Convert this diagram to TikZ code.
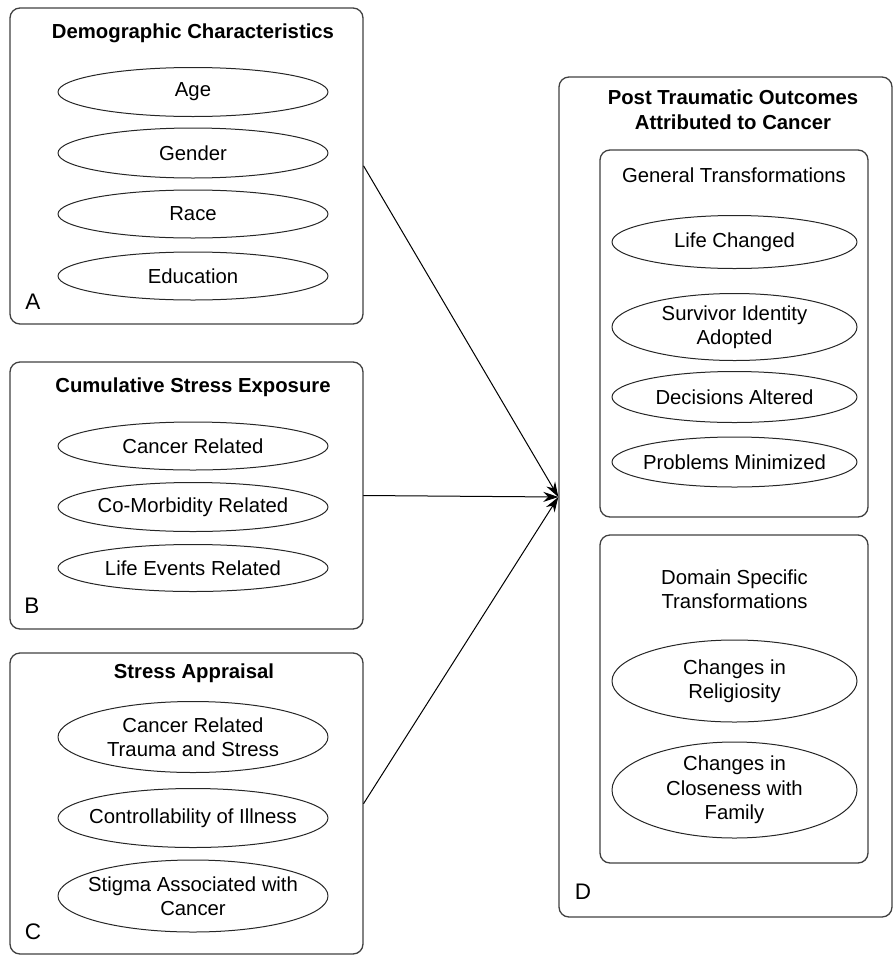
\documentclass[tikz,border=0pt]{standalone}
\usepackage{fontspec}
\setmainfont{Liberation Sans}
\usetikzlibrary{arrows.meta,shapes.geometric}
\tikzset{
  panel/.style={draw=black!75, line width=1.3pt, rounded corners=10pt},
  oval/.style={ellipse, draw=black!85, line width=1pt, minimum width=270pt,
    inner xsep=-16pt, inner ysep=-3pt, align=center},
  title/.style={font=\fontsize{20.3}{25}\selectfont\bfseries, align=center},
  subtitle/.style={align=center},
  letter/.style={font=\fontsize{22.5}{26}\selectfont}
}
\begin{document}
\begin{tikzpicture}[x=1pt, y=-1pt, >={Stealth[length=15pt,width=10pt]}, line join=round, line cap=round,
    font=\fontsize{20.3}{24.5}\selectfont]
	\useasboundingbox (0,0) rectangle (895,956);
	% panels
	\node[panel, minimum width=353pt, minimum height=316pt] (A) at (186.5,166) {};
	\node[panel, minimum width=353pt, minimum height=267pt] (B) at (186.5,495.5) {};
	\node[panel, minimum width=353pt, minimum height=301pt] (C) at (186.5,803.5) {};
	\node[panel, minimum width=333pt, minimum height=840pt] (D) at (725.5,497) {};
	\node[panel, minimum width=268pt, minimum height=367pt] (G) at (734,333.5) {};
	\node[panel, minimum width=268pt, minimum height=328pt] (S) at (734,699) {};
	% A
	\node[title] (tA) at (193,33) {Demographic Characteristics};
	\node[oval, minimum height=49pt] (age) at (193,92) {Age};
	\node[oval, minimum height=50pt] (gender) at (193,153) {Gender};
	\node[oval, minimum height=48pt] (race) at (193,214) {Race};
	\node[oval, minimum height=48pt] (edu) at (193,276) {Education};
	\node[letter] (lA) at (33,302) {A};
	% B
	\node[title] (tB) at (193,387) {Cumulative Stress Exposure};
	\node[oval, minimum height=48pt] (canrel) at (193,446) {Cancer Related};
	\node[oval, minimum height=49pt] (comorb) at (193,507) {Co-Morbidity Related};
	\node[oval, minimum height=47pt] (lifeev) at (193,568) {Life Events Related};
	\node[letter] (lB) at (32,606) {B};
	% C
	\node[title] (tC) at (194,673) {Stress Appraisal};
	\node[oval, minimum height=71pt] (trauma) at (193,737) {Cancer Related\\Trauma and Stress};
	\node[oval, minimum height=59pt] (control) at (193,818) {Controllability of Illness};
	\node[oval, minimum height=72pt] (stigma) at (193,896) {Stigma Associated with\\Cancer};
	\node[letter] (lC) at (33,932) {C};
	% D
	\node[title] (tD) at (733,110) {Post Traumatic Outcomes\\Attributed to Cancer};
	\node[subtitle] (tG) at (734,175) {General Transformations};
	\node[oval, minimum width=245pt, minimum height=53pt] (lifech) at (734.5,242) {Life Changed};
	\node[oval, minimum width=245pt, minimum height=67pt] (ident) at (734.5,327) {Survivor Identity\\Adopted};
	\node[oval, minimum width=245pt, minimum height=51pt] (decis) at (734.5,397) {Decisions Altered};
	\node[oval, minimum width=245pt, minimum height=50pt] (probl) at (734.5,462) {Problems Minimized};
	\node[subtitle, font=\fontsize{20.3}{23.5}\selectfont] (tS) at (734.5,589) {Domain Specific\\Transformations};
	\node[oval, minimum width=245pt, minimum height=82pt] (relig) at (734.5,681) {Changes in\\Religiosity};
	\node[oval, minimum width=245pt, minimum height=96pt] (family) at (734.5,790) {Changes in\\Closeness with\\Family};
	\node[letter] (lD) at (583,892) {D};
	% arrows
	\draw[->, line width=1pt] (A.east) -- (D.west);
	\draw[->, line width=1pt] (B.east) -- (D.west);
	\draw[->, line width=1pt] (C.east) -- (D.west);
\end{tikzpicture}
\end{document}
